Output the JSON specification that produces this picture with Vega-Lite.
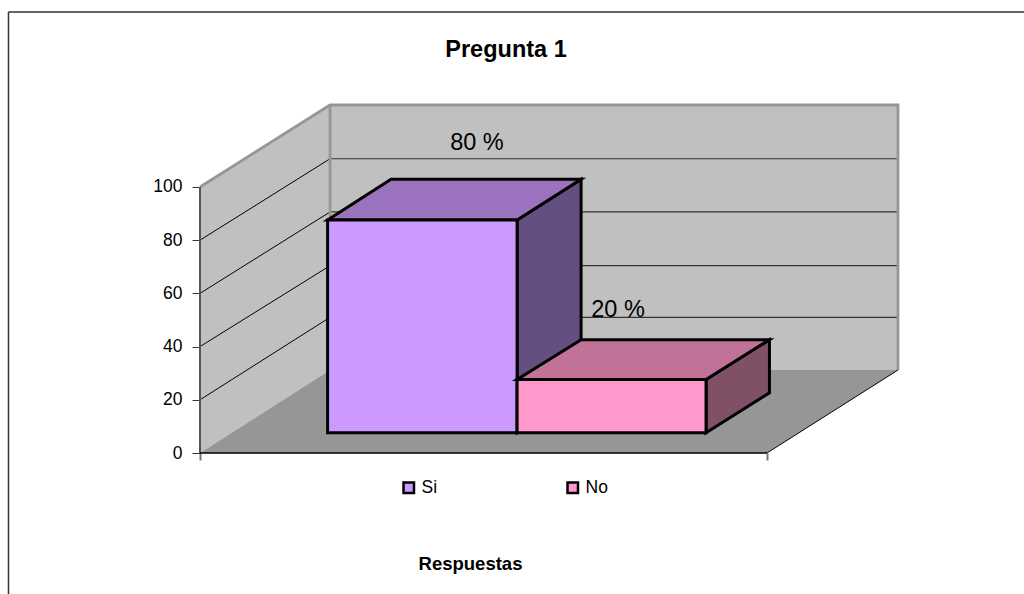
{
  "$schema": "https://vega.github.io/schema/vega-lite/v6.json",
  "autosize": {"type": "none"},
  "padding": {"left": 200, "top": 105, "right": 126, "bottom": 141},
  "width": 698,
  "height": 348,
  "background": "#ffffff",
  "title": {"text": "Pregunta 1", "font": "Liberation Sans", "fontSize": 23.5, "fontWeight": "bold", "color": "#000000", "anchor": "middle", "dx": -43, "offset": -50},
  "config": {"view": {"stroke": null}},
  "datasets": {
    "muros": [
      {"cara": "izquierda", "x": 0, "y": 0, "y2": 100},
      {"cara": "izquierda", "x": 0.687, "y": 31.2, "y2": 130.8},
      {"cara": "fondo", "x": 0.687, "y": 31.2, "y2": 130.8},
      {"cara": "fondo", "x": 3.687, "y": 31.2, "y2": 130.8}
    ],
    "suelo": [
      {"y": 0, "x": 0, "x2": 2.995},
      {"y": 31.2, "x": 0.687, "x2": 3.687}
    ],
    "rejilla_lateral": [
      {"nivel": 20, "x": 0, "y": 20},
      {"nivel": 20, "x": 0.687, "y": 51},
      {"nivel": 40, "x": 0, "y": 40},
      {"nivel": 40, "x": 0.687, "y": 70.4},
      {"nivel": 60, "x": 0, "y": 60},
      {"nivel": 60, "x": 0.687, "y": 90.6},
      {"nivel": 80, "x": 0, "y": 80},
      {"nivel": 80, "x": 0.687, "y": 110.6}
    ],
    "rejilla_fondo": [
      {"nivel": 20, "x": 0.687, "x2": 3.687, "y": 51},
      {"nivel": 40, "x": 0.687, "x2": 3.687, "y": 70.4},
      {"nivel": 60, "x": 0.687, "x2": 3.687, "y": 90.6},
      {"nivel": 80, "x": 0.687, "x2": 3.687, "y": 110.6}
    ],
    "borde_muro": [
      {"tramo": "arista", "orden": 1, "x": 0, "y": 100},
      {"tramo": "arista", "orden": 2, "x": 0.687, "y": 130.8},
      {"tramo": "arista", "orden": 3, "x": 3.687, "y": 130.8},
      {"tramo": "arista", "orden": 4, "x": 3.687, "y": 31.2},
      {"tramo": "esquina", "orden": 1, "x": 0.687, "y": 130.8},
      {"tramo": "esquina", "orden": 2, "x": 0.687, "y": 31.2}
    ],
    "borde_suelo": [
      {"tramo": "diagonal", "x": 2.995, "y": 0},
      {"tramo": "diagonal", "x": 3.687, "y": 31.2}
    ],
    "eje_vertical": [{"x": 0, "y": 0, "y2": 100}],
    "eje_horizontal": [{"x": 0, "x2": 2.995, "y": 0}],
    "marco_izquierdo": [{"x": -1.0116, "y": 165.8, "y2": -53}],
    "marco_superior": [{"x": -1.0116, "x2": 4.353, "y": 165.8}],
    "si_lado": [
      {"x": 1.675, "y": 7.6, "y2": 87.6},
      {"x": 2.013, "y": 22.6, "y2": 102.9}
    ],
    "si_techo": [
      {"y": 87.6, "x": 0.674, "x2": 1.675},
      {"y": 102.9, "x": 1.009, "x2": 2.013}
    ],
    "si_frente": [{"serie": "Si", "x": 0.674, "x2": 1.675, "y": 7.6, "y2": 87.6}],
    "no_lado": [
      {"x": 2.673, "y": 7.6, "y2": 27.6},
      {"x": 3.008, "y": 22.6, "y2": 42.6}
    ],
    "no_techo": [
      {"y": 27.6, "x": 1.675, "x2": 2.673},
      {"y": 42.6, "x": 2.013, "x2": 3.008}
    ],
    "no_frente": [{"serie": "No", "x": 1.675, "x2": 2.673, "y": 7.6, "y2": 27.6}],
    "etiquetas": [
      {"texto": "80 %", "x": 1.463, "y": 116.5},
      {"texto": "20 %", "x": 2.208, "y": 53.7}
    ]
  },
  "encoding": {
    "x": {
      "field": "x",
      "type": "quantitative",
      "scale": {"domain": [0, 3.687], "nice": false, "zero": false},
      "axis": {
        "values": [0, 2.995],
        "labels": false,
        "domain": false,
        "grid": false,
        "tickSize": 7,
        "tickWidth": 2,
        "tickColor": "#777777",
        "title": "Respuestas",
        "titleFont": "Liberation Sans",
        "titleFontSize": 18.5,
        "titleFontWeight": "bold",
        "titleColor": "#000000",
        "titleX": 270,
        "titleY": 116,
        "titleAnchor": "middle",
        "titleBaseline": "alphabetic"
      }
    },
    "y": {
      "field": "y",
      "type": "quantitative",
      "scale": {"domain": [0, 130.8], "nice": false, "zero": false},
      "axis": {
        "values": [0, 20, 40, 60, 80, 100],
        "domain": false,
        "grid": false,
        "tickSize": 8,
        "tickWidth": 1,
        "tickColor": "#333333",
        "labelFont": "Liberation Sans",
        "labelFontSize": 17.5,
        "labelColor": "#000000",
        "labelPadding": 10,
        "title": null
      }
    }
  },
  "layer": [
    {
      "data": {"name": "muros"},
      "mark": {"type": "area", "orient": "vertical", "fill": "#C0C0C0"},
      "encoding": {"y2": {"field": "y2"}, "detail": {"field": "cara"}}
    },
    {
      "data": {"name": "suelo"},
      "mark": {"type": "area", "orient": "horizontal", "fill": "#969696"},
      "encoding": {"x2": {"field": "x2"}}
    },
    {
      "data": {"name": "rejilla_lateral"},
      "mark": {"type": "line", "stroke": "#000000", "strokeWidth": 1},
      "encoding": {"detail": {"field": "nivel"}}
    },
    {
      "data": {"name": "rejilla_fondo"},
      "mark": {"type": "rule", "stroke": "#333333", "strokeWidth": 1.2},
      "encoding": {"x2": {"field": "x2"}}
    },
    {
      "data": {"name": "borde_muro"},
      "mark": {"type": "line", "stroke": "#969696", "strokeWidth": 2.8},
      "encoding": {"detail": {"field": "tramo"}, "order": {"field": "orden", "type": "quantitative"}}
    },
    {
      "data": {"name": "borde_suelo"},
      "mark": {"type": "line", "stroke": "#000000", "strokeWidth": 1},
      "encoding": {}
    },
    {
      "data": {"name": "eje_vertical"},
      "mark": {"type": "rule", "stroke": "#555555", "strokeWidth": 2},
      "encoding": {"y2": {"field": "y2"}}
    },
    {
      "data": {"name": "eje_horizontal"},
      "mark": {"type": "rule", "stroke": "#000000", "strokeWidth": 1.5},
      "encoding": {"x2": {"field": "x2"}}
    },
    {
      "data": {"name": "marco_izquierdo"},
      "mark": {"type": "rule", "stroke": "#333333", "strokeWidth": 1.5},
      "encoding": {"y2": {"field": "y2"}}
    },
    {
      "data": {"name": "marco_superior"},
      "mark": {"type": "rule", "stroke": "#333333", "strokeWidth": 1.5},
      "encoding": {"x2": {"field": "x2"}}
    },
    {
      "data": {"name": "si_lado"},
      "mark": {"type": "area", "orient": "vertical", "fill": "#654F80", "stroke": "#000000", "strokeWidth": 3},
      "encoding": {"y2": {"field": "y2"}}
    },
    {
      "data": {"name": "si_techo"},
      "mark": {"type": "area", "orient": "horizontal", "fill": "#9B72BE", "stroke": "#000000", "strokeWidth": 3},
      "encoding": {"x2": {"field": "x2"}}
    },
    {
      "data": {"name": "si_frente"},
      "mark": {"type": "rect", "stroke": "#000000", "strokeWidth": 3},
      "encoding": {
        "x2": {"field": "x2"},
        "y2": {"field": "y2"},
        "color": {
          "field": "serie",
          "type": "nominal",
          "scale": {"domain": ["Si", "No"], "range": ["#CC99FF", "#FF99CC"]},
          "legend": {
            "orient": "none",
            "legendX": 200,
            "legendY": 374,
            "direction": "horizontal",
            "title": null,
            "symbolType": "square",
            "symbolSize": 110,
            "symbolStrokeColor": "#000000",
            "symbolStrokeWidth": 2.5,
            "labelFont": "Liberation Sans",
            "labelFontSize": 17.5,
            "labelColor": "#000000",
            "labelOffset": 4,
            "columnPadding": 124
          }
        }
      }
    },
    {
      "data": {"name": "no_lado"},
      "mark": {"type": "area", "orient": "vertical", "fill": "#805066", "stroke": "#000000", "strokeWidth": 3},
      "encoding": {"y2": {"field": "y2"}}
    },
    {
      "data": {"name": "no_techo"},
      "mark": {"type": "area", "orient": "horizontal", "fill": "#C07299", "stroke": "#000000", "strokeWidth": 3},
      "encoding": {"x2": {"field": "x2"}}
    },
    {
      "data": {"name": "no_frente"},
      "mark": {"type": "rect", "stroke": "#000000", "strokeWidth": 3},
      "encoding": {
        "x2": {"field": "x2"},
        "y2": {"field": "y2"},
        "color": {"field": "serie", "type": "nominal"}
      }
    },
    {
      "data": {"name": "etiquetas"},
      "mark": {"type": "text", "font": "Liberation Sans", "fontSize": 23.5, "color": "#000000", "align": "center", "baseline": "middle"},
      "encoding": {"text": {"field": "texto"}}
    }
  ]
}
